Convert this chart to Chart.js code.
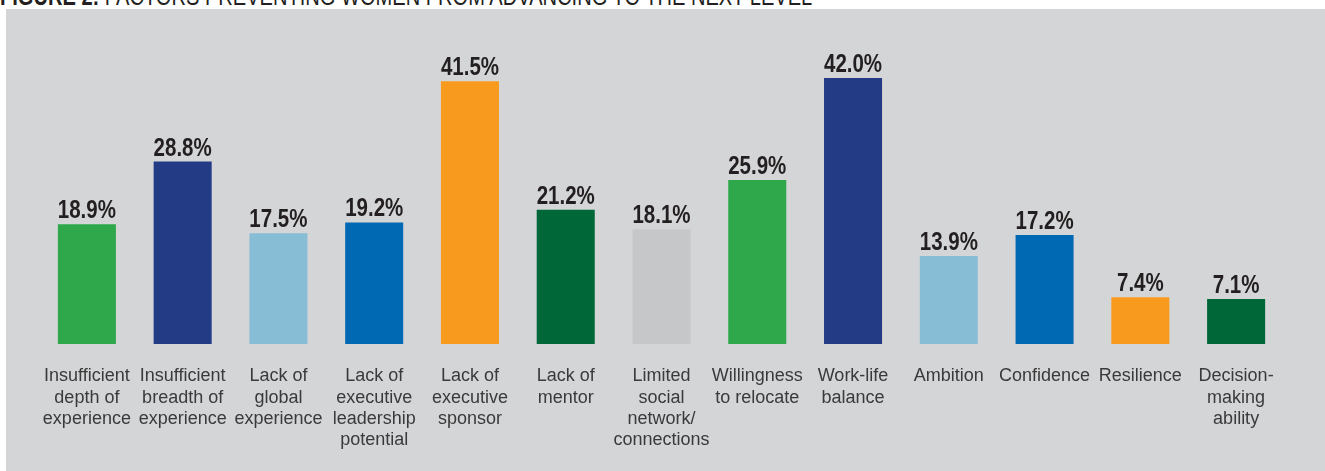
<!DOCTYPE html>
<html>
<head>
<meta charset="utf-8">
<script src="https://cdn.jsdelivr.net/npm/chart.js@4"></script>
<style>
    html, body { margin: 0; padding: 0; background: #ffffff; }
    body { width: 1325px; height: 471px; position: relative; overflow: hidden; }
    #titulo {
        position: absolute; left: 0; top: -16px; white-space: nowrap;
        font-family: 'Liberation Sans', Arial, sans-serif;
        font-size: 25px; color: #231f20; line-height: 25px;
        transform-origin: 0 0;
    }
    #titulo b { font-weight: bold; }
    #painel { position: absolute; left: 6px; top: 9px; width: 1319px; height: 462px; background: #d4d5d7; }
</style>
</head>
<body>
<div id="titulo"><b>FIGURE 2:</b> FACTORS PREVENTING WOMEN FROM ADVANCING TO THE NEXT LEVEL</div>
<div id="painel"><canvas id="grafico" width="1319" height="462"></canvas></div>
<script>
// Dados do gráfico
const categorias = [
    ['Insufficient', 'depth of', 'experience'],
    ['Insufficient', 'breadth of', 'experience'],
    ['Lack of', 'global', 'experience'],
    ['Lack of', 'executive', 'leadership', 'potential'],
    ['Lack of', 'executive', 'sponsor'],
    ['Lack of', 'mentor'],
    ['Limited', 'social', 'network/', 'connections'],
    ['Willingness', 'to relocate'],
    ['Work-life', 'balance'],
    ['Ambition'],
    ['Confidence'],
    ['Resilience'],
    ['Decision-', 'making', 'ability']
];
const valores = [18.9, 28.8, 17.5, 19.2, 41.5, 21.2, 18.1, 25.9, 42.0, 13.9, 17.2, 7.4, 7.1];
const cores = ['#2ea84a', '#233a85', '#88bdd6', '#0069b4', '#f79a1e', '#006838', '#c6c7c9',
               '#2ea84a', '#233a85', '#88bdd6', '#0069b4', '#f79a1e', '#006838'];

// título condensado: ajusta a largura do texto (~812px no original)
const titulo = document.getElementById('titulo');
titulo.style.transform = 'scaleX(' + (812 / titulo.offsetWidth) + ')';

// Rótulos de valor acima das barras (fonte condensada via escala horizontal)
const rotulosPlugin = {
    id: 'rotulos',
    afterDatasetsDraw: (chart) => {
        const ctx = chart.ctx;
        const meta = chart.getDatasetMeta(0);
        const escala = 0.82;
        ctx.save();
        ctx.font = "bold 25px 'Liberation Sans', Arial, sans-serif";
        ctx.fillStyle = '#231f20';
        ctx.textAlign = 'center';
        ctx.textBaseline = 'alphabetic';
        meta.data.forEach((bar, i) => {
            ctx.save();
            ctx.translate(bar.x, bar.y - 6);
            ctx.scale(escala, 1);
            ctx.fillText(valores[i].toFixed(1) + '%', 0, 0);
            ctx.restore();
        });
        ctx.restore();
    }
};

new Chart(document.getElementById('grafico'), {
    type: 'bar',
    data: {
        labels: categorias,
        datasets: [{
            data: valores,
            backgroundColor: cores,
            borderWidth: 0,
            barPercentage: 0.606,
            categoryPercentage: 1
        }]
    },
    options: {
        responsive: false,
        animation: false,
        layout: { padding: { left: 33, right: 41, top: 31, bottom: 0 } },
        plugins: { legend: { display: false }, tooltip: { enabled: false } },
        scales: {
            x: {
                grid: { display: false, drawTicks: false },
                border: { display: false },
                ticks: {
                    autoSkip: false, maxRotation: 0, minRotation: 0, padding: 22,
                    color: '#3a3a3a',
                    font: { family: "'Liberation Sans', Arial, sans-serif", size: 18, lineHeight: 1.17 }
                },
                afterFit: (scale) => { scale.height = 127; }
            },
            y: { display: false, min: 0, max: 48 }
        }
    },
    plugins: [rotulosPlugin]
});
</script>
</body>
</html>
